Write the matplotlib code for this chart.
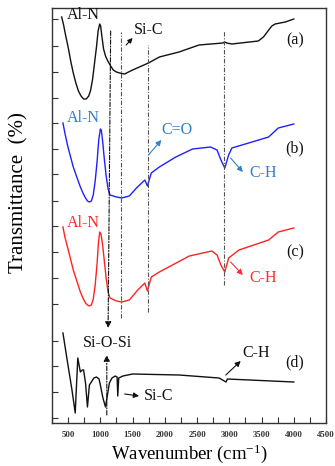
import matplotlib
matplotlib.use("Agg")
import matplotlib.pyplot as plt
from matplotlib.ticker import MultipleLocator

# --- Daten (Transmittance mit Versatz, beliebige Einheiten) ---
wn_a = [400, 430, 460, 500, 540, 580, 620, 660, 700, 740, 780, 820, 850, 880, 910, 940,
        965, 990, 1005, 1025, 1050, 1080, 1115, 1160, 1200, 1250, 1300, 1375, 1500, 1746,
        1915, 2220, 2530, 2900, 2930, 2960, 3040, 3450, 3530, 3600, 3660, 3710, 3870, 4000]
t_a = [406, 398, 388, 376, 362, 350, 340, 332, 327, 324, 324, 327, 333, 344, 360, 376,
       392, 399, 397, 386, 374, 367, 362, 357, 353, 351, 350, 349, 353, 360,
       366, 371, 378, 380, 381, 380, 379, 382, 386, 392, 397, 399, 401, 404]

wn_b = [420, 450, 490, 530, 580, 640, 690, 730, 770, 800, 830, 860, 890, 920, 950, 975,
        1000, 1015, 1035, 1060, 1090, 1120, 1150, 1250, 1330, 1450, 1560, 1690, 1730,
        1790, 1915, 2170, 2430, 2710, 2810, 2870, 2930, 2990, 3040, 3300, 3610, 3760, 4000]
t_b = [300, 290, 278, 268, 256, 245, 236, 230, 225, 222, 221, 222, 228, 242, 262, 283,
       294, 293, 282, 265, 247, 234, 228, 226, 225, 227, 235, 243, 237,
       250, 256, 266, 274, 276, 273, 263, 255, 268, 275, 280, 286, 295, 299]

wn_c = [420, 450, 490, 530, 580, 640, 690, 730, 770, 800, 830, 860, 890, 920, 950, 970,
        990, 1010, 1035, 1060, 1090, 1120, 1150, 1250, 1330, 1450, 1580, 1690, 1730,
        1790, 1915, 2380, 2730, 2810, 2870, 2930, 2990, 3150, 3610, 3760, 4000]
t_c = [196, 186, 176, 166, 153, 141, 131, 125, 120, 118, 117, 118, 124, 138, 160, 180,
       191, 189, 178, 163, 145, 131, 125, 122, 121, 123, 133, 140, 132,
       146, 151, 167, 172, 168, 158, 151, 165, 173, 183, 191, 195]

wn_d = [420, 485, 560, 610, 650, 690, 720, 740, 770, 800, 830, 850, 900, 940, 980,
        1000, 1040, 1080, 1110, 1140, 1180, 1230, 1260, 1270, 1285, 1350, 1500, 2220,
        2840, 2950, 2970, 4000]
t_d = [90, 63, 33, 10, 65, 51, 53, 53, 40, 16, 38, 40, 45, 46, 44,
       38, 25, 16, 28, 40, 45, 47, 46, 27, 45, 47, 49, 48, 45, 41, 44, 41]

# Markierte Banden (gestrichelte Linien)
band_wn = [1160, 1320, 1740, 2920]
band_top = [392, 391, 378, 392]
band_bottom = [95, 105, 111, 138]

y_ticks = [404, 377, 351, 325, 300, 274, 249, 222, 197, 171, 145, 119, 82, 57, 31, 5]

plt.rcParams['font.family'] = ['Liberation Serif', 'DejaVu Serif']
plt.rcParams['mathtext.fontset'] = 'custom'
plt.rcParams['mathtext.rm'] = 'Liberation Serif'
plt.rcParams['mathtext.default'] = 'regular'

fig = plt.figure(figsize=(3.35, 4.66), dpi=100)
ax = fig.add_axes([52 / 335, 43 / 466, 274 / 335, 415 / 466])

BLACK = '#111111'
BLUE_LINE = '#2020ff'
RED_LINE = '#ff2222'
BLUE_TXT = '#2f7fcf'
RED_TXT = '#ff2a2a'
GRAY = '#555555'
dashdot = (0, (4, 1.5, 1, 1.5))

for wn, t, c in [(wn_a, t_a, BLACK), (wn_b, t_b, BLUE_LINE),
                 (wn_c, t_c, RED_LINE), (wn_d, t_d, BLACK)]:
    ax.plot(wn, t, color=c, lw=1.0, solid_joinstyle='round')

for i, (w, top, bot) in enumerate(zip(band_wn, band_top, band_bottom)):
    if i == 0:
        # erste Linie endet als Pfeil auf Si-O-Si
        ax.annotate('', xy=(w - 40, bot), xytext=(w, top),
                    arrowprops=dict(arrowstyle='-|>', color=BLACK, lw=0.8,
                                    linestyle=dashdot, mutation_scale=9,
                                    shrinkA=0, shrinkB=0))
    else:
        ax.plot([w, w], [bot, top], color=GRAY, lw=0.8, linestyle=dashdot)


def pfeil(xy, xytext, color, ms=8, ls='-'):
    ax.annotate('', xy=xy, xytext=xytext,
                arrowprops=dict(arrowstyle='-|>', color=color, lw=0.8, linestyle=ls,
                                mutation_scale=ms, shrinkA=0, shrinkB=0))


fs = 11.5
# (a)
ax.text(485, 408, 'Al-N', color=BLACK, fontsize=fs, ha='left', va='center')
ax.text(1515, 393, 'Si-C', color=BLACK, fontsize=fs, ha='left', va='center')
pfeil((1500, 385), (1400, 378), BLACK, ms=7)
ax.text(4020, 383, '(a)', color=BLACK, fontsize=fs, ha='center', va='center')

# (b)
ax.text(485, 305, 'Al-N', color=BLUE_TXT, fontsize=fs, ha='left', va='center')
ax.text(2190, 293, 'C=O', color=BLUE_TXT, fontsize=fs, ha='center', va='center')
pfeil((1946, 283), (1746, 268), BLUE_TXT)
ax.text(3530, 250, 'C-H', color=BLUE_TXT, fontsize=fs, ha='center', va='center')
pfeil((3210, 251), (3020, 265), BLUE_TXT)
ax.text(4020, 275, '(b)', color=BLACK, fontsize=fs, ha='center', va='center')

# (c)
ax.text(485, 200, 'Al-N', color=RED_TXT, fontsize=fs, ha='left', va='center')
ax.text(3530, 145, 'C-H', color=RED_TXT, fontsize=fs, ha='center', va='center')
pfeil((3210, 148), (3020, 161), RED_TXT)
ax.text(4020, 171, '(c)', color=BLACK, fontsize=fs, ha='center', va='center')

# (d)
ax.text(1115, 80, 'Si-O-Si', color=BLACK, fontsize=fs, ha='center', va='center')
pfeil((1100, 68), (1100, 8), BLACK, ms=9, ls=dashdot)
ax.text(1900, 27, 'Si-C', color=BLACK, fontsize=fs, ha='center', va='center')
pfeil((1600, 27), (1377, 29), BLACK)
ax.text(3410, 70, 'C-H', color=BLACK, fontsize=fs, ha='center', va='center')
pfeil((3177, 62), (2946, 48), BLACK)
ax.text(4020, 61, '(d)', color=BLACK, fontsize=fs, ha='center', va='center')

ax.set_xlim(250, 4500)
ax.set_ylim(0, 415)
ax.xaxis.set_major_locator(MultipleLocator(500))
ax.xaxis.set_minor_locator(MultipleLocator(250))
ax.set_yticks(y_ticks)
ax.set_yticklabels([])
ax.tick_params(axis='both', which='both', direction='in', length=4, width=0.8,
               top=False, right=False, color='#333333')
ax.tick_params(axis='x', labelsize=6.3, labelcolor='#333333', pad=6)
for lab in ax.get_xticklabels():
    lab.set_fontweight('bold')
for sp in ax.spines.values():
    sp.set_linewidth(1.0)
    sp.set_color('#333333')

ax.set_xlabel('Wavenumber (cm$^{-1}$)', fontsize=13.5, labelpad=2)
fig.text(19 / 335, 1 - 193 / 466, 'Transmittance  (%)', rotation=90, fontsize=15,
         ha='center', va='center')

fig.savefig('out.png', dpi=100)
